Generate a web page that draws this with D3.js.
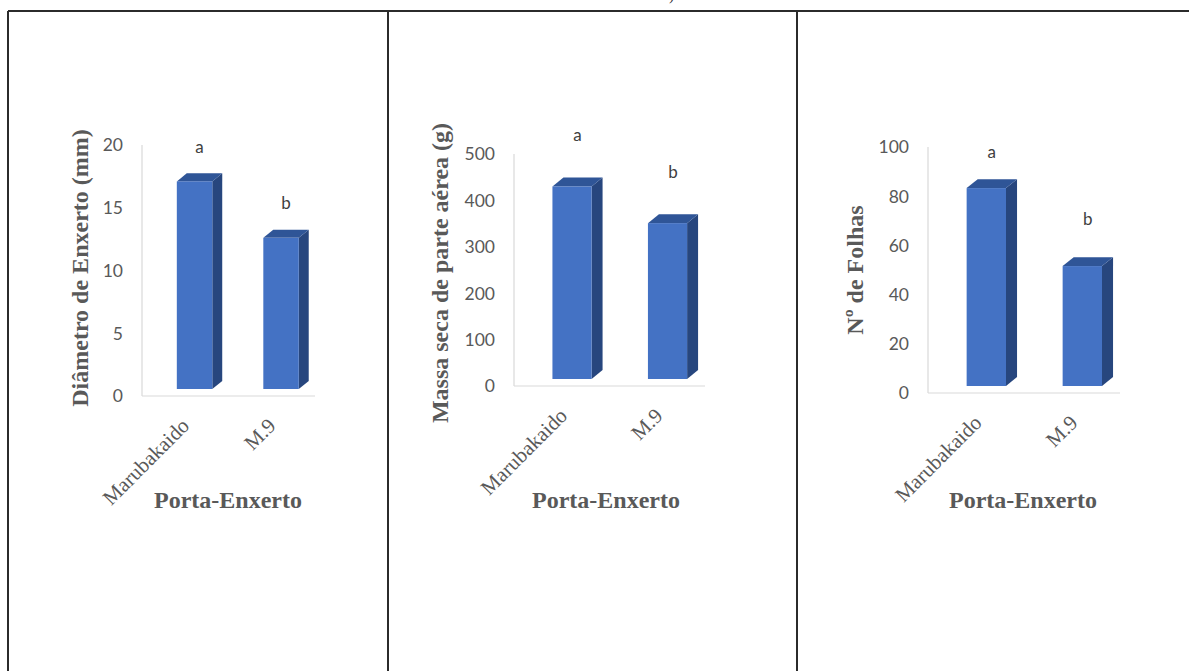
<!DOCTYPE html>
<html>
<head>
<meta charset="utf-8">
<script src="https://cdn.jsdelivr.net/npm/d3@7"></script>
<style>
  html, body { margin: 0; padding: 0; background: #fff; }
  svg { display: block; }
</style>
</head>
<body>
<svg id="chart" width="1189" height="671"></svg>
<script>
// Porta-enxertos avaliados
const categories = ["Marubakaido", "M.9"];

// Médias por porta-enxerto
const diametro = [17.1, 12.6];     // mm
const massaSeca = [430, 351];      // g
const folhas = [83.3, 51.6];       // nº

// Letras do teste de médias
const letras = ["a", "b"];

// Marcas dos eixos
const ticksDiametro = [0, 5, 10, 15, 20];
const ticksMassa = [0, 100, 200, 300, 400, 500];
const ticksFolhas = [0, 20, 40, 60, 80, 100];

const yTitles = ["Diâmetro de Enxerto (mm)", "Massa seca de parte aérea (g)", "Nº de Folhas"];
const xTitle = "Porta-Enxerto";

// Layout of the three panels (table cells)
const panels = [
  { values: diametro, ticks: ticksDiametro, max: 20, title: yTitles[0],
    x0: 142, x1: 315, yBase: 396, yTop: 145, titleX: 80, titleY: 268,
    labelGap: [34, 35], xTitleX: 228 },
  { values: massaSeca, ticks: ticksMassa, max: 500, title: yTitles[1],
    x0: 514, x1: 705, yBase: 386, yTop: 154, titleX: 440, titleY: 273,
    labelGap: [51, 51], xTitleX: 606 },
  { values: folhas, ticks: ticksFolhas, max: 100, title: yTitles[2],
    x0: 928, x1: 1120, yBase: 393, yTop: 147, titleX: 855, titleY: 270,
    labelGap: [36, 47], xTitleX: 1023 }
];

const svg = d3.select("#chart");

const sans = "Lato, 'Open Sans', 'Liberation Sans', sans-serif";
const serif = "'Liberation Serif', 'DejaVu Serif', serif";
const textGray = "#595959";
const frontColor = "#4472c4";
const topColor = "#2f5597";
const sideColor = "#27467e";

// Table borders
const border = svg.append("g").attr("stroke", "#2b2b2b").attr("stroke-width", 2);
border.append("line").attr("x1", 8).attr("x2", 1189).attr("y1", 11).attr("y2", 11);
[8, 388, 797].forEach(x => {
  border.append("line").attr("x1", x).attr("x2", x).attr("y1", 11).attr("y2", 671);
});

// Tail of a caption line above the table
svg.append("text").attr("x", 669).attr("y", 0)
  .attr("font-family", serif).attr("font-size", 16).attr("fill", "#333")
  .text(")");

panels.forEach(p => {
  const g = svg.append("g");

  const y = d3.scaleLinear().domain([0, p.max]).range([p.yBase, p.yTop]);
  const x = d3.scalePoint().domain(categories).range([p.x0, p.x1]).padding(0.5);
  const step = x.step();
  const shift = 0.165 * step;        // 3-D floor offset
  const front = 0.41 * step;         // front face width
  const dx = 0.115 * step;           // depth (horizontal)
  const dy = 0.093 * step;           // depth (vertical)
  const lift = 7;                    // floor lift of the bars

  // Axis lines
  g.append("line")
    .attr("x1", p.x0).attr("x2", p.x0).attr("y1", y(p.max)).attr("y2", y(0))
    .attr("stroke", "#d9d9d9").attr("stroke-width", 1.2);
  g.append("line")
    .attr("x1", p.x0).attr("x2", p.x1).attr("y1", y(0)).attr("y2", y(0))
    .attr("stroke", "#d9d9d9").attr("stroke-width", 1.2);

  // Tick labels
  g.selectAll(".tick").data(p.ticks).join("text")
    .attr("x", p.x0 - 19).attr("y", d => y(d))
    .attr("dy", "0.36em")
    .attr("text-anchor", "end")
    .attr("font-family", sans).attr("font-size", 17.5).attr("fill", textGray)
    .text(d => d);

  // 3-D bars
  const bars = g.selectAll(".bar").data(categories.map((c, i) => ({ c, v: p.values[i], i })))
    .join("g");

  bars.each(function(d) {
    const b = d3.select(this);
    const cx = x(d.c) + shift;
    const left = cx - (front + dx) / 2;
    const right = left + front;
    const top = y(d.v);
    const bottom = y(0) - lift;

    // side face
    b.append("path")
      .attr("d", `M${right},${top} L${right + dx},${top - dy} L${right + dx},${bottom - dy} L${right},${bottom} Z`)
      .attr("fill", sideColor);
    // top face
    b.append("path")
      .attr("d", `M${left},${top} L${left + dx},${top - dy} L${right + dx},${top - dy} L${right},${top} Z`)
      .attr("fill", topColor);
    // front face
    b.append("rect")
      .attr("x", left).attr("y", top)
      .attr("width", front).attr("height", bottom - top)
      .attr("fill", frontColor);

    // significance letter
    b.append("text")
      .attr("x", cx).attr("y", top - p.labelGap[d.i])
      .attr("dy", "0.35em")
      .attr("text-anchor", "middle")
      .attr("font-family", sans).attr("font-size", 17).attr("fill", "#404040")
      .text(letras[d.i]);

    // category label, rotated
    const lx = cx - 9, ly = p.yBase + 31;
    b.append("text")
      .attr("transform", `translate(${lx},${ly}) rotate(-45)`)
      .attr("text-anchor", "end")
      .attr("font-family", serif).attr("font-size", 21).attr("fill", textGray)
      .text(d.c);
  });

  // Y-axis title
  g.append("text")
    .attr("transform", `translate(${p.titleX},${p.titleY}) rotate(-90)`)
    .attr("text-anchor", "middle").attr("dy", "0.35em")
    .attr("font-family", serif).attr("font-weight", "bold")
    .attr("font-size", 24).attr("fill", textGray)
    .text(p.title);

  // X-axis title
  g.append("text")
    .attr("x", p.xTitleX).attr("y", 508)
    .attr("text-anchor", "middle")
    .attr("font-family", serif).attr("font-weight", "bold")
    .attr("font-size", 24).attr("fill", textGray)
    .text(xTitle);
});
</script>
</body>
</html>
